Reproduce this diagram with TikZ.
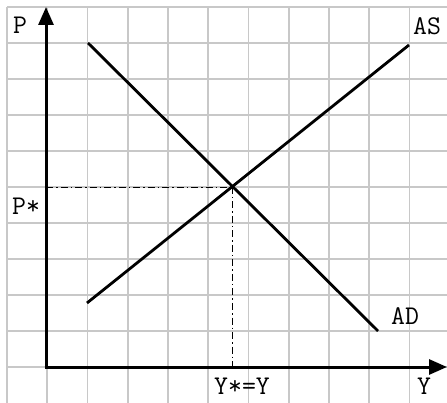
\documentclass[tikz,border=0pt]{standalone}
\usepackage{fontspec}
\usetikzlibrary{arrows.meta}
\definecolor{gridgray}{RGB}{200,200,200}
\tikzset{
  gridline/.style={draw=gridgray, line width=1.6pt},
  axisline/.style={draw=black, line width=3pt, -{Triangle[length=18pt,width=15pt]}},
  curve/.style={draw=black, line width=2.8pt},
  guide/.style={draw=black, line width=0.9pt, dash pattern=on 7pt off 3pt on 1.5pt off 3pt},
  lbl/.style={font=\ttfamily\fontsize{27}{27}\selectfont, inner sep=0pt}
}
\begin{document}
\begin{tikzpicture}[x=1pt,y=-1pt]
\useasboundingbox[fill=white] (0,0) rectangle (447,403);
% grid
\foreach \k in {0,...,10} {
  \draw[gridline] ({7+40.25*\k},7) -- ({7+40.25*\k},403);
}
\foreach \j in {0,...,10} {
  \draw[gridline] (7,{7+36*\j}) -- (447,{7+36*\j});
}
% coordinates
\coordinate (O) at (46,367);
\coordinate (ytop) at (46,7);
\coordinate (xend) at (447,367);
\coordinate (ad1) at (88,43);
\coordinate (ad2) at (378,331);
\coordinate (as1) at (87,303);
\coordinate (as2) at (409,45);
\coordinate (E) at (232,187);
\coordinate (Ey) at (46,187);
\coordinate (Ex) at (232,367);
% guides
\draw[guide] (Ey) -- (E);
\draw[guide] (E) -- (Ex);
% curves
\draw[curve] (ad1) -- (ad2);
\draw[curve] (as1) -- (as2);
% axes
\draw[axisline] ([yshift=-1.5pt]O) -- (ytop);
\draw[axisline] ([xshift=-1.5pt]O) -- (xend);
% labels
\node[lbl, anchor=center] (lP) at (20,25) {P};
\node[lbl, anchor=center] (lPs) at (26,206) {P*};
\node[lbl, anchor=west] (lAS) at (413,26) {AS};
\node[lbl, anchor=center] (lAD) at (405,316) {AD};
\node[lbl, anchor=center] (lYs) at (242,386) {Y*=Y};
\node[lbl, anchor=center] (lY) at (424,386) {Y};
\end{tikzpicture}
\end{document}
